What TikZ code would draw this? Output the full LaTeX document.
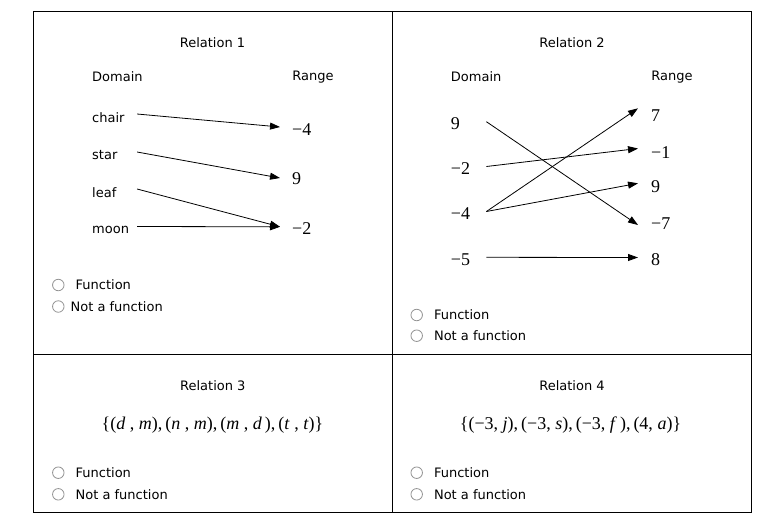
\documentclass[tikz,border=0pt]{standalone}
\usepackage{fontspec}
\setmainfont{DejaVu Sans}
\newfontfamily\numfont{Liberation Serif}
\usetikzlibrary{arrows.meta,positioning}

\begin{document}
\begin{tikzpicture}[x=1pt, y=-1pt, font=\fontsize{13}{15}\selectfont,
    dom/.style={anchor=west, inner sep=0pt, text width=#1, align=left},
    num/.style={font=\numfont\fontsize{18}{20}\selectfont},
    rng/.style={anchor=west, inner xsep=12pt, inner ysep=0pt, num},
    lbl/.style={anchor=west, inner sep=0pt},
    radio/.style={circle, draw=gray!85, line width=0.8pt, minimum size=11.5pt, inner sep=0pt},
    arr/.style={-{Triangle[length=10pt,width=7pt]}, line width=0.8pt}]

    \useasboundingbox (0,0) rectangle (765,520);

    % table frame
    \draw[line width=1pt] (33,11) rectangle (751,512);
    \draw[line width=1pt] (392.5,11) -- (392.5,512);
    \draw[line width=1pt] (33,354) -- (751,354);

    % relation 1
    \node (title1) at (212.5,43) {Relation 1};
    \node[lbl] (dom1) at (92,77) {Domain};
    \node (range1) at (313,77) {Range};
    \node[dom=44.7pt] (chair) at (92,118) {chair};
    \node[dom=44.7pt] (star) at (92,155) {star};
    \node[dom=44.7pt] (leaf) at (92,192.5) {leaf};
    \node[dom=44.7pt] (moon) at (92,230) {moon};
    \node[rng] (r1a) at (280,129.5) {−4};
    \node[rng] (r1b) at (280,179) {9};
    \node[rng] (r1c) at (280,228.8) {−2};
    \draw[arr] ([yshift=4pt]chair.east) -- ([yshift=2.5pt]r1a.west);
    \draw[arr] ([yshift=3pt]star.east) -- ([yshift=1pt]r1b.west);
    \draw[arr] ([yshift=3.5pt]leaf.east) -- ([yshift=2pt]r1c.west);
    \draw[arr] ([yshift=3.5pt]moon.east) -- ([yshift=2pt]r1c.west);
    \node[radio] (c1a) at (58.3,285) {};
    \node[lbl, right=11pt of c1a] (f1a) {Function};
    \node[radio] (c1b) at (58.3,306.5) {};
    \node[lbl, right=6pt of c1b] (f1b) {Not a function};

    % relation 2
    \node (title2) at (572,43) {Relation 2};
    \node[lbl] (dom2) at (450.7,77) {Domain};
    \node (range2) at (672,77) {Range};
    \node[dom=35.3pt, num] (d2a) at (450.7,123.7) {9};
    \node[dom=35.3pt, num] (d2b) at (450.7,168.5) {−2};
    \node[dom=35.3pt, num] (d2c) at (450.7,213.5) {−4};
    \node[dom=35.3pt, num] (d2d) at (450.7,259.3) {−5};
    \node[rng, inner xsep=13pt] (r2a) at (638,115.8) {7};
    \node[rng, inner xsep=13pt] (r2b) at (638,152.5) {−1};
    \node[rng, inner xsep=13pt] (r2c) at (638,187) {9};
    \node[rng, inner xsep=13pt] (r2d) at (638,223.3) {−7};
    \node[rng, inner xsep=13pt] (r2e) at (638,259.5) {8};
    \draw[arr] ([yshift=2pt]d2a.east) -- ([yshift=-1.7pt]r2d.west);
    \draw[arr] ([yshift=2pt]d2b.east) -- ([yshift=4pt]r2b.west);
    \draw[arr] ([yshift=2pt]d2c.east) -- ([yshift=7.5pt]r2a.west);
    \draw[arr] ([yshift=2pt]d2c.east) -- ([yshift=3.7pt]r2c.west);
    \draw[arr] ([yshift=2pt]d2d.east) -- ([yshift=2pt]r2e.west);
    \node[radio] (c2a) at (416.7,315) {};
    \node[lbl, right=11pt of c2a] (f2a) {Function};
    \node[radio] (c2b) at (416.7,335.7) {};
    \node[lbl, right=11pt of c2b] (f2b) {Not a function};

    % relation 3
    \node (title3) at (212.8,386) {Relation 3};
    \node[num] (set3) at (212.5,425) {\{(\textit{d}\ ,\ \textit{m}),\,(\textit{n}\ ,\ \textit{m}),\,(\textit{m}\ ,\ \textit{d}\,),\,(\textit{t}\ ,\ \textit{t})\}};
    \node[radio] (c3a) at (58.3,472.7) {};
    \node[lbl, right=11pt of c3a] (f3a) {Function};
    \node[radio] (c3b) at (58.3,494.3) {};
    \node[lbl, right=11pt of c3b] (f3b) {Not a function};

    % relation 4
    \node (title4) at (572,386) {Relation 4};
    \node[num] (set4) at (570.5,425) {\{(−3,\ \textit{j}),\,(−3,\ \textit{s}),\,(−3,\ \textit{f}\,),\,(4,\ \textit{a})\}};
    \node[radio] (c4a) at (416.7,472.7) {};
    \node[lbl, right=11pt of c4a] (f4a) {Function};
    \node[radio] (c4b) at (416.7,494.3) {};
    \node[lbl, right=11pt of c4b] (f4b) {Not a function};
\end{tikzpicture}
\end{document}
